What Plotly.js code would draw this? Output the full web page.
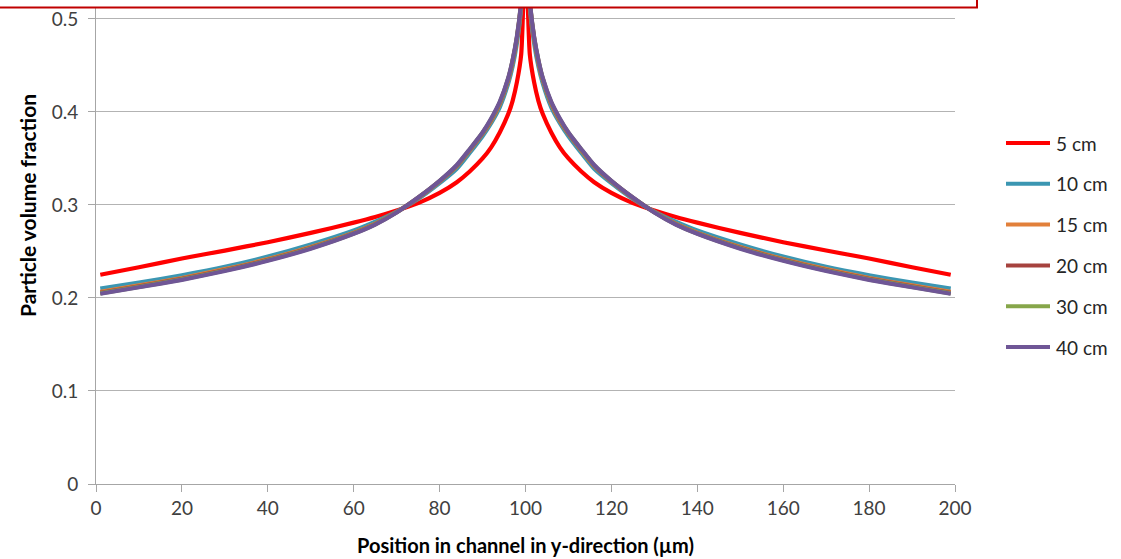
<!DOCTYPE html>
<html>
<head>
<meta charset="utf-8">
<script src="https://cdn.plot.ly/plotly-3.0.1.min.js"></script>
<style>html,body{margin:0;padding:0;background:#fff;}#chart{width:1121px;height:559px;}</style>
</head>
<body>
<div id="chart"></div>
<script>
// Position in channel (µm)
const positions = [1,10,20,30,40,50,60,65,70,75,80,84,87,90,92,94,96,97,98,99,100,101,102,103,104,106,108,110,113,116,120,125,130,135,140,150,160,170,180,190,199];
const seriesNames = ["5 cm","10 cm","15 cm","20 cm","30 cm","40 cm"];
const seriesColors = ["#FF0000","#3B96B2","#E2803A","#A6423E","#86A64A","#6F5696"];
// Particle volume fraction per series
const frac5 = [0.225,0.233,0.2425,0.251,0.260,0.270,0.281,0.287,0.294,0.302,0.313,0.3245,0.336,0.350,0.362,0.378,0.398,0.412,0.432,0.462,0.58,0.462,0.432,0.412,0.398,0.378,0.362,0.350,0.336,0.3245,0.313,0.302,0.294,0.287,0.281,0.270,0.260,0.251,0.2425,0.233,0.225];
const frac10 = [0.210,0.2165,0.2245,0.2335,0.2445,0.2575,0.2725,0.282,0.293,0.3065,0.3235,0.339,0.356,0.374,0.388,0.405,0.431,0.449,0.474,0.512,0.61,0.512,0.474,0.449,0.431,0.405,0.388,0.374,0.356,0.339,0.3235,0.3065,0.293,0.282,0.2725,0.2575,0.2445,0.2335,0.2245,0.2165,0.210];
const frac15 = [0.2065,0.2135,0.2215,0.231,0.2418,0.2548,0.2703,0.280,0.2925,0.3075,0.3252,0.3415,0.3585,0.3765,0.3905,0.4085,0.4345,0.4535,0.4785,0.517,0.615,0.517,0.4785,0.4535,0.4345,0.4085,0.3905,0.3765,0.3585,0.3415,0.3252,0.3075,0.2925,0.280,0.2703,0.2548,0.2418,0.231,0.2215,0.2135,0.2065];
const frac20 = [0.2055,0.2125,0.2205,0.230,0.241,0.254,0.2697,0.2795,0.2922,0.3078,0.3256,0.3422,0.3592,0.3772,0.3915,0.4095,0.4358,0.4548,0.4798,0.5185,0.618,0.5185,0.4798,0.4548,0.4358,0.4095,0.3915,0.3772,0.3592,0.3422,0.3256,0.3078,0.2922,0.2795,0.2697,0.254,0.241,0.230,0.2205,0.2125,0.2055];
const frac30 = [0.205,0.212,0.220,0.2295,0.2405,0.2535,0.2693,0.2792,0.2921,0.3079,0.3258,0.3426,0.3596,0.3776,0.3922,0.4102,0.4364,0.4554,0.4804,0.5193,0.619,0.5193,0.4804,0.4554,0.4364,0.4102,0.3922,0.3776,0.3596,0.3426,0.3258,0.3079,0.2921,0.2792,0.2693,0.2535,0.2405,0.2295,0.220,0.212,0.205];
const frac40 = [0.2045,0.2115,0.2195,0.229,0.240,0.253,0.269,0.279,0.292,0.308,0.326,0.343,0.360,0.378,0.393,0.411,0.437,0.456,0.481,0.520,0.62,0.520,0.481,0.456,0.437,0.411,0.393,0.378,0.360,0.343,0.326,0.308,0.292,0.279,0.269,0.253,0.240,0.229,0.2195,0.2115,0.2045];
const allFrac = [frac5,frac10,frac15,frac20,frac30,frac40];
const xTicks = [0,20,40,60,80,100,120,140,160,180,200];
const yTicks = [0,0.1,0.2,0.3,0.4,0.5];

const FONT = "Lato, 'Open Sans', sans-serif";
const W = 1121, H = 559, ML = 96, MR = 166, MT = 8, MB = 75;
const PW = W - ML - MR, PH = H - MT - MB;
const px2x = p => (p - ML) / PW;
const px2y = p => 1 - (p - MT) / PH;

const traces = seriesNames.map((n,i)=>({
  x: positions, y: allFrac[i], name: n, type: 'scatter', mode: 'lines',
  line: {color: seriesColors[i], width: 4.2, shape: 'spline', smoothing: 0.6}
}));

// custom legend (line sample + label), built from series names / colours
const legShapes = [], legAnn = [];
seriesNames.forEach((n,i)=>{
  const cy = 143 + i*40.8;
  legShapes.push({type:'line', xref:'paper', yref:'paper', x0:px2x(1006), x1:px2x(1050), y0:px2y(cy), y1:px2y(cy),
    line:{color:seriesColors[i], width:4}, layer:'above'});
  legAnn.push({text:n, xref:'paper', yref:'paper', x:px2x(1054), y:px2y(cy), xanchor:'left', yanchor:'middle',
    showarrow:false, font:{family:FONT, size:19, color:'#262626'}});
});

const layout = {
  width: W, height: H,
  margin: {l: ML, r: MR, t: MT, b: MB},
  paper_bgcolor: '#fff', plot_bgcolor: '#fff',
  font: {family: FONT, size: 19, color: '#404040'},
  showlegend: false,
  xaxis: {range: [0,200], tickvals: xTicks, ticktext: xTicks.map(String),
          showgrid: false, zeroline: false, showline: true, linecolor: '#A6A6A6', linewidth: 1,
          ticks: 'outside', ticklen: 7, tickcolor: '#A6A6A6', tickfont: {family: FONT, size: 19, color: '#404040'}},
  yaxis: {range: [0,0.5118], tickvals: yTicks, ticktext: yTicks.map(String),
          showgrid: true, gridcolor: '#B3B3B3', gridwidth: 1, zeroline: false,
          showline: true, linecolor: '#A6A6A6', linewidth: 1,
          ticks: 'outside', ticklen: 7, tickcolor: '#A6A6A6', ticklabelstandoff: 6,
          tickfont: {family: FONT, size: 19, color: '#404040'}},
  annotations: [
    {text: '<b>Position in channel in y-direction (µm)</b>', xref: 'paper', yref: 'paper',
     x: px2x(525), y: px2y(545), xanchor: 'center', yanchor: 'middle', showarrow: false,
     font: {family: FONT, size: 20, color: '#000'}},
    {text: '<b>Particle volume fraction</b>', xref: 'paper', yref: 'paper',
     x: px2x(27), y: px2y(206), xanchor: 'center', yanchor: 'middle', textangle: -90, showarrow: false,
     font: {family: FONT, size: 21, color: '#000'}}
  ].concat(legAnn),
  shapes: [
    {type: 'rect', xref: 'paper', yref: 'paper', x0: -0.2, x1: px2x(977), y0: px2y(7.5), y1: 1.06,
     line: {color: '#C00000', width: 2}, fillcolor: 'rgba(0,0,0,0)', layer: 'above'}
  ].concat(legShapes)
};
Plotly.newPlot('chart', traces, layout, {displayModeBar: false, staticPlot: true});
</script>
</body>
</html>
